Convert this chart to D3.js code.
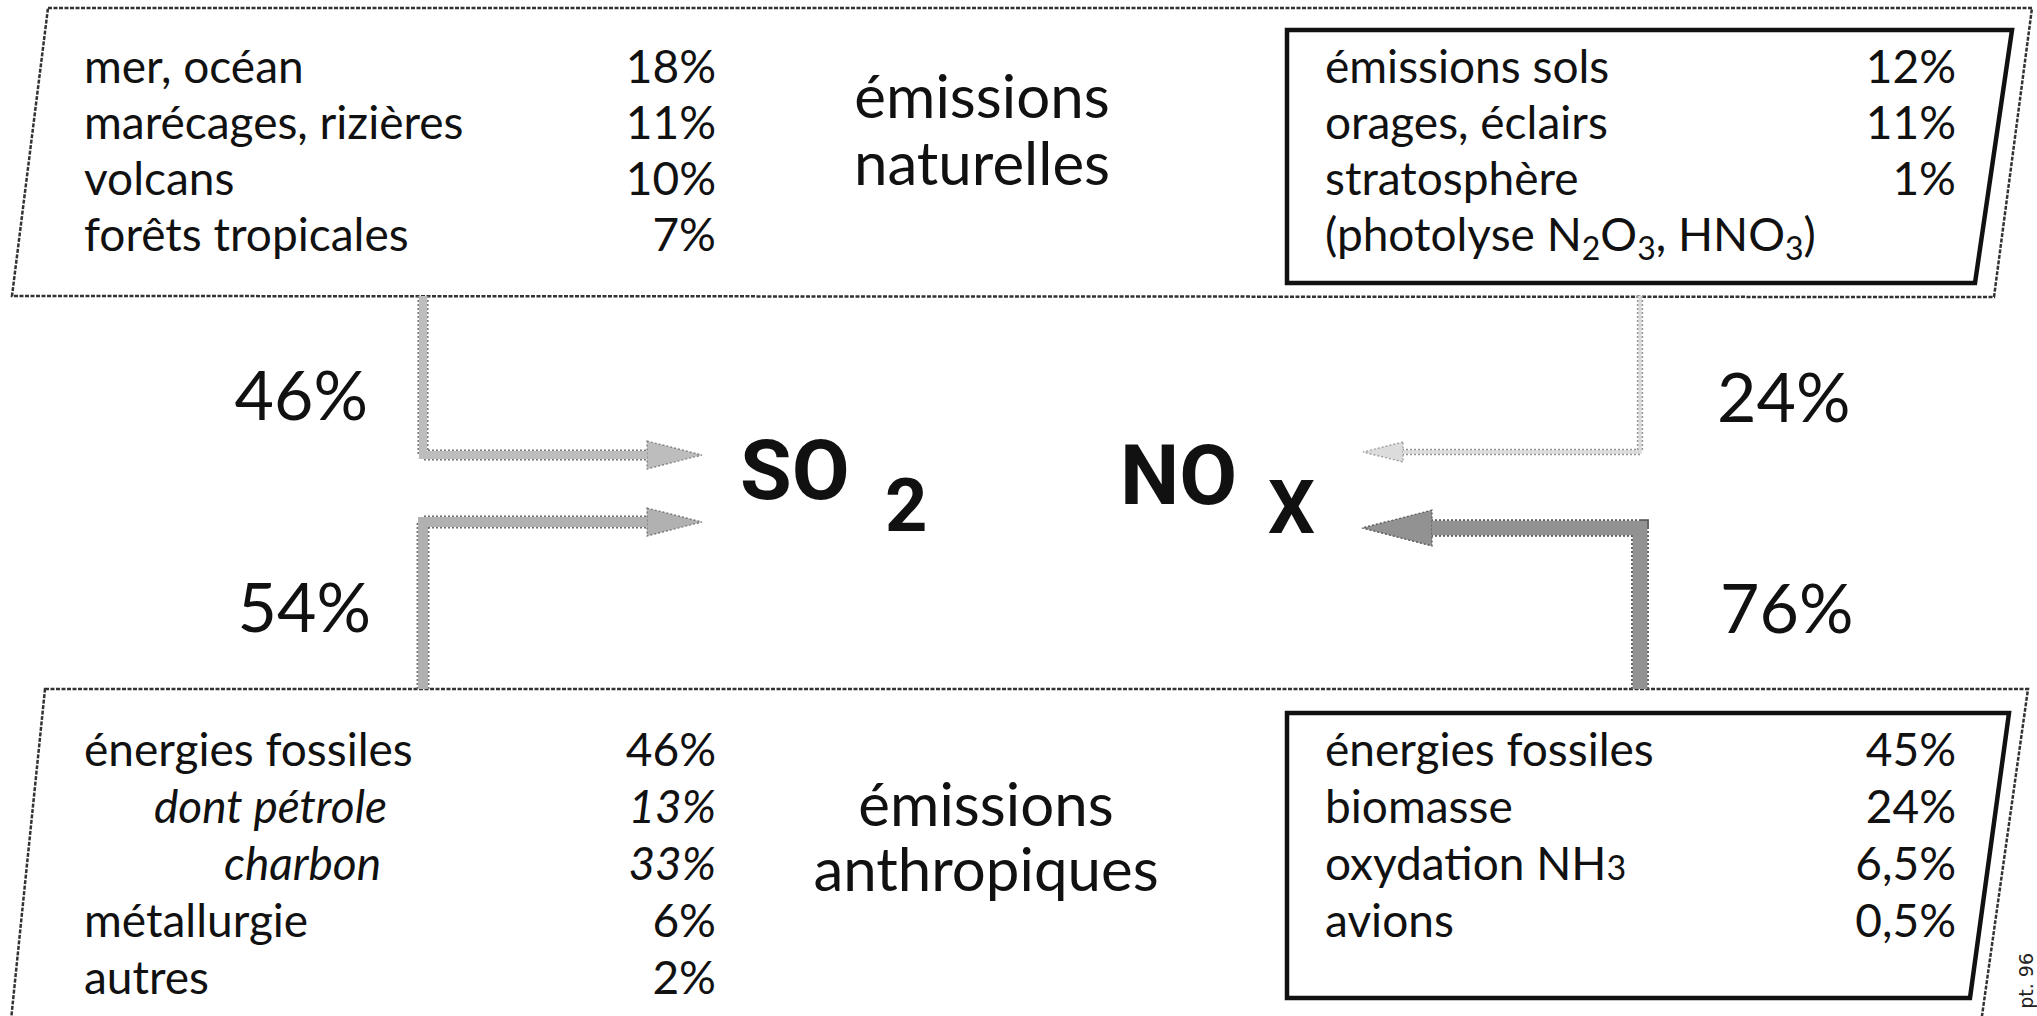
<!DOCTYPE html>
<html><head><meta charset="utf-8">
<script src="https://cdn.jsdelivr.net/npm/d3@7"></script>
<style>html,body{margin:0;padding:0;background:#fff;overflow:hidden}</style>
</head><body><svg id="c" width="2037" height="1016"></svg>
<script>
// ---------- data ----------
const so2NaturalLabels = ["mer, océan", "marécages, rizières", "volcans", "forêts tropicales"];
const so2NaturalValues = ["18%", "11%", "10%", "7%"];
const noxNaturalLabels = ["émissions sols", "orages, éclairs", "stratosphère", "(photolyse N2O3, HNO3)"];
const noxNaturalValues = ["12%", "11%", "1%", ""];
const so2AnthroLabels = ["énergies fossiles", "dont pétrole", "charbon", "métallurgie", "autres"];
const so2AnthroValues = ["46%", "13%", "33%", "6%", "2%"];
const so2AnthroLevel = [0, 1, 2, 0, 0];
const noxAnthroLabels = ["énergies fossiles", "biomasse", "oxydation NH3", "avions"];
const noxAnthroValues = ["45%", "24%", "6,5%", "0,5%"];
const flowNames = ["SO2 naturel", "SO2 anthropique", "NOx naturel", "NOx anthropique"];
const flowValues = [46, 54, 24, 76];
const flowLabels = ["46%", "54%", "24%", "76%"];
const titleTop = ["émissions", "naturelles"];
const titleBottom = ["émissions", "anthropiques"];
const creditText = "pt. 96";

// ---------- layout ----------
const svg = d3.select("#c");
const F = "Lato, 'Open Sans', sans-serif";
const rowTop = d3.scaleLinear().domain([0, 1]).range([83, 139]);
const rowBot = d3.scaleLinear().domain([0, 1]).range([766, 823]);
const widthScale = d3.scaleLinear().domain([0, 100]).range([0, 22]);
const greyScale = d3.scaleLinear().domain([20, 80]).range(["#e2e2e2", "#8c8c8c"]);
const edgeScale = d3.scaleLinear().domain([20, 80]).range(["#9a9a9a", "#4a4a4a"]);

const line = d3.line();
function poly(pts, stroke, sw, dash) {
  svg.append("path").attr("d", line(pts) + "Z").attr("fill", "none")
    .attr("stroke", stroke).attr("stroke-width", sw)
    .attr("stroke-dasharray", dash || null).attr("stroke-linejoin", "miter");
}
// outer sketchy frames
poly([[48, 8], [2032, 8], [1994, 297], [12, 296]], "#333", 2.5, "4,1.5");
poly([[45, 689], [2028, 689], [1980, 1030], [10, 1030]], "#333", 2.5, "4,1.5");
// inner NOx boxes
poly([[1287, 30], [2012, 30], [1975, 283], [1287, 283]], "#111", 4.5);
poly([[1287, 713], [2009, 713], [1970, 998], [1287, 998]], "#111", 4.5);

// ---------- lists ----------
function list(labels, values, xLab, xVal, yScale, opts) {
  const g = svg.append("g").attr("font-family", F).attr("font-size", 46).attr("fill", "#111");
  labels.forEach((lab, i) => {
    const lvl = opts && opts.level ? opts.level[i] : 0;
    const t = g.append("text").attr("x", xLab + lvl * 70).attr("y", yScale(i))
      .attr("font-style", lvl > 0 ? "italic" : null);
    if (lab.startsWith("(photolyse")) {
      t.append("tspan").text("(photolyse N");
      t.append("tspan").attr("font-size", 32).attr("dy", 9).text("2");
      t.append("tspan").attr("dy", -9).text("O");
      t.append("tspan").attr("font-size", 32).attr("dy", 9).text("3");
      t.append("tspan").attr("dy", -9).text(", HNO");
      t.append("tspan").attr("font-size", 32).attr("dy", 9).text("3");
      t.append("tspan").attr("dy", -9).text(")");
    } else if (lab.endsWith("NH3")) {
      t.append("tspan").text(lab.slice(0, -1));
      t.append("tspan").attr("font-size", 34).text("3");
    } else t.text(lab);
    if (values[i]) g.append("text").attr("x", xVal).attr("y", yScale(i))
      .attr("text-anchor", "end").attr("font-style", lvl > 0 ? "italic" : null).text(values[i]);
  });
}
list(so2NaturalLabels, so2NaturalValues, 84, 716, rowTop);
list(noxNaturalLabels, noxNaturalValues, 1325, 1956, rowTop);
list(so2AnthroLabels, so2AnthroValues, 84, 716, rowBot, {level: so2AnthroLevel});
list(noxAnthroLabels, noxAnthroValues, 1325, 1956, rowBot);

// titles
function title(lines, cx, y0, dy) {
  const g = svg.append("g").attr("font-family", F).attr("font-size", 60).attr("fill", "#111")
    .attr("text-anchor", "middle");
  lines.forEach((s, i) => g.append("text").attr("x", cx).attr("y", y0 + i * dy).text(s));
}
title(titleTop, 982, 118, 67);
title(titleBottom, 986, 826, 65);

// ---------- flows ----------
const flowGeom = [
  {x: 423, y0: 296, y: 455, tip: 702, head: 55, half: 14},
  {x: 423, y0: 689, y: 522, tip: 702, head: 55, half: 14},
  {x: 1640, y0: 296, y: 452, tip: 1363, head: 40, half: 10},
  {x: 1640, y0: 689, y: 528, tip: 1362, head: 70, half: 18}
];
flowValues.forEach((v, i) => {
  const g = flowGeom[i];
  const w = widthScale(v), col = greyScale(v), edge = edgeScale(v);
  const dir = g.tip > g.x ? 1 : -1;
  const base = g.tip - dir * g.head;
  const shaft = line([[g.x, g.y0], [g.x, g.y], [base, g.y]]);
  const head = line([[base, g.y - g.half], [g.tip, g.y], [base, g.y + g.half]]) + "Z";
  // dotted edge
  svg.append("path").attr("d", shaft).attr("fill", "none").attr("stroke", edge)
    .attr("stroke-width", w + 1).attr("stroke-dasharray", "2,2").attr("stroke-linejoin", "miter");
  svg.append("path").attr("d", head).attr("fill", col).attr("stroke", edge)
    .attr("stroke-width", 1.2).attr("stroke-dasharray", "2,2");
  // stippled core
  svg.append("path").attr("d", shaft).attr("fill", "none").attr("stroke", col)
    .attr("stroke-width", Math.max(1, w - 2)).attr("stroke-linejoin", "miter");
});
const flowLabelPos = [
  {x: 368, y: 420, a: "end"}, {x: 371, y: 632, a: "end"},
  {x: 1717, y: 422, a: "start"}, {x: 1720, y: 633, a: "start"}
];
flowLabels.forEach((s, i) => {
  const p = flowLabelPos[i];
  svg.append("text").attr("x", p.x).attr("y", p.y).attr("text-anchor", p.a)
    .attr("font-family", F).attr("font-size", 68).attr("fill", "#111").text(s);
});

// ---------- species ----------
const B = "Roboto, 'Liberation Sans', Arial, sans-serif";
const so2 = svg.append("text").attr("font-family", B).attr("font-weight", "bold").attr("fill", "#111");
so2.append("tspan").attr("x", 740).attr("y", 499).attr("font-size", 84).text("SO");
so2.append("tspan").attr("x", 885).attr("y", 531).attr("font-size", 74).text("2");
const nox = svg.append("text").attr("font-family", B).attr("font-weight", "bold").attr("fill", "#111");
nox.append("tspan").attr("x", 1120).attr("y", 504).attr("font-size", 84).text("NO");
nox.append("tspan").attr("x", 1268).attr("y", 533).attr("font-size", 74).text("X");

// credit (rotated)
svg.append("text").attr("transform", "translate(2033,953) rotate(-90)")
  .attr("text-anchor", "end").attr("font-family", "'DejaVu Sans', sans-serif")
  .attr("font-size", 19).attr("fill", "#222").text(creditText);
</script></body></html>
